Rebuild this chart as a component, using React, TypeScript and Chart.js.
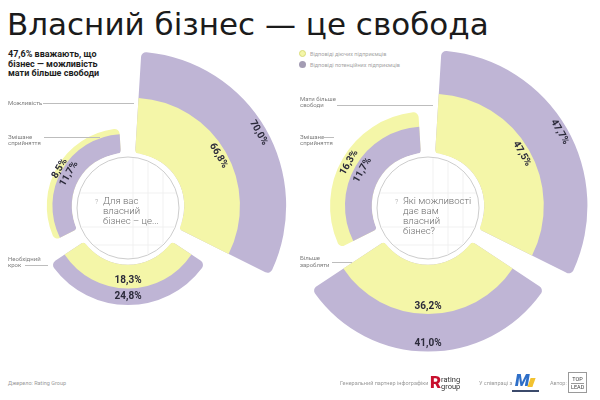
import React, { useEffect, useRef } from "react";
import { Chart, registerables } from "chart.js";

Chart.register(...registerables);

// ---------- data ----------
const leftCategories = ["Можливість", "Необхідний крок", "Змішане сприйняття"];
const leftOwners = [66.8, 18.3, 8.5]; // відповіді діючих підприємців
const leftPotential = [70.0, 24.8, 11.7]; // відповіді потенційних підприємців
const leftPotentialInside = [false, false, true];
const leftQuestion = ["Для вас", "власний", "бізнес – це..."];
const leftScaleMin = -96.4;
const leftScaleMax = 161.2;

const rightCategories = ["Мати більше свободи", "Більше заробляти", "Змішане сприйняття"];
const rightOwners = [47.5, 36.2, 16.3];
const rightPotential = [47.7, 41.0, 11.7];
const rightPotentialInside = [false, false, true];
const rightQuestion = ["Які можливості", "дає вам", "власний", "бізнес?"];
const rightScaleMin = -74.4;
const rightScaleMax = 111.4;

const legendLabels = ["Відповіді діючих підприємців", "Відповіді потенційних підприємців"];

// ---------- style ----------
const YELLOW = "#F4F6A8";
const PURPLE = "#BFB5D5";
const LABEL_COLOR = "#2B2A3A";
const SIZE = 340;
const OFFSET = 18;
const PAD_DEG = 3.5;
const HOLE = 52;
const COVER = 55.5;
const RING = 51;

function fmt(v: number) {
  return v.toFixed(1).replace(".", ",") + "%";
}

function buildDatasets(owners: number[], potential: number[], inside: boolean[]) {
  const innerData: number[] = [];
  const outerData: number[] = [];
  const innerColors: string[] = [];
  const outerColors: string[] = [];
  const innerVals: number[] = [];
  const outerVals: number[] = [];
  owners.forEach((o, i) => {
    const p = potential[i];
    const first = inside[i] ? p : o;
    const second = inside[i] ? o : p;
    innerData.push(first);
    outerData.push(first + second);
    innerColors.push(inside[i] ? PURPLE : YELLOW);
    outerColors.push(inside[i] ? YELLOW : PURPLE);
    innerVals.push(first);
    outerVals.push(second);
  });
  return [
    {
      data: innerData,
      backgroundColor: innerColors,
      borderWidth: 0,
      offset: OFFSET,
      borderRadius: { outerStart: 0, outerEnd: 0, innerStart: 4, innerEnd: 4 },
      valueLabels: innerVals,
    },
    {
      data: outerData,
      backgroundColor: outerColors,
      borderWidth: 0,
      offset: OFFSET,
      borderRadius: 5,
      valueLabels: outerVals,
    },
  ];
}

const polarDecor = {
  id: "polarDecor",
  afterDatasetsUpdate(chart: any) {
    const pad = (PAD_DEG * Math.PI) / 180;
    chart.data.datasets.forEach((_: any, d: number) => {
      chart.getDatasetMeta(d).data.forEach((arc: any) => {
        arc.startAngle += pad;
        arc.endAngle -= pad;
        arc.innerRadius = HOLE;
        arc.circumference = arc.endAngle - arc.startAngle;
      });
    });
  },
  afterDatasetsDraw(chart: any, _args: any, opts: any) {
    const ctx = chart.ctx as CanvasRenderingContext2D;
    const r = chart.scales.r as any;
    const cx = r.xCenter;
    const cy = r.yCenter;
    ctx.save();
    // cover + ring
    ctx.beginPath();
    ctx.arc(cx, cy, COVER, 0, Math.PI * 2);
    ctx.fillStyle = "#ffffff";
    ctx.fill();
    // faint grid
    ctx.save();
    ctx.beginPath();
    ctx.arc(cx, cy, RING - 1, 0, Math.PI * 2);
    ctx.clip();
    ctx.strokeStyle = "#eeeeee";
    ctx.lineWidth = 0.8;
    [5, 20, 35].forEach((dx) => {
      ctx.beginPath();
      ctx.moveTo(cx + dx, cy - RING);
      ctx.lineTo(cx + dx, cy + RING);
      ctx.stroke();
    });
    [-15, 19, 37].forEach((dy) => {
      ctx.beginPath();
      ctx.moveTo(cx - RING, cy + dy);
      ctx.lineTo(cx + RING, cy + dy);
      ctx.stroke();
    });
    ctx.restore();
    ctx.beginPath();
    ctx.arc(cx, cy, RING, 0, Math.PI * 2);
    ctx.strokeStyle = "#cdcdcd";
    ctx.lineWidth = 1;
    ctx.stroke();

    // question text
    const lines: string[] = opts.question || [];
    ctx.textBaseline = "middle";
    ctx.textAlign = "left";
    ctx.fillStyle = "#9a9a9a";
    ctx.font = "300 7px Roboto";
    ctx.fillText("?", cx - 33, cy - 6);
    ctx.fillStyle = "#6e6e6e";
    ctx.font = "300 9.6px Roboto";
    lines.forEach((ln, k) => ctx.fillText(ln, cx - 25, cy - 6 + k * 10));

    // value labels
    const trans = OFFSET / 4;
    ctx.font = "bold 10px Roboto";
    ctx.fillStyle = LABEL_COLOR;
    ctx.textAlign = "center";
    chart.data.datasets.forEach((ds: any, d: number) => {
      const meta = chart.getDatasetMeta(d);
      meta.data.forEach((arc: any, i: number) => {
        const mid = (arc.startAngle + arc.endAngle) / 2;
        const circ = arc.endAngle - arc.startAngle;
        const extra = trans * (1 - Math.sin(Math.min(Math.PI, circ)));
        const outerTrue = arc.outerRadius + extra + trans;
        const innerTrue =
          d === 0 ? HOLE + extra + trans : chart.getDatasetMeta(0).data[i].outerRadius + extra + trans;
        const rr = outerTrue - Math.min(8, (outerTrue - innerTrue) / 2);
        const px = cx + Math.cos(mid) * rr;
        const py = cy + Math.sin(mid) * rr;
        let rot = mid + Math.PI / 2;
        while (rot > Math.PI) rot -= 2 * Math.PI;
        while (rot <= -Math.PI) rot += 2 * Math.PI;
        if (rot > Math.PI / 2) rot -= Math.PI;
        if (rot < -Math.PI / 2) rot += Math.PI;
        ctx.save();
        ctx.translate(px, py);
        ctx.rotate(rot);
        ctx.fillText(fmt(ds.valueLabels[i]), 0, 0);
        ctx.restore();
      });
    });
    ctx.restore();
  },
};

type PanelProps = {
  categories: string[];
  owners: number[];
  potential: number[];
  inside: boolean[];
  question: string[];
  min: number;
  max: number;
  left: number;
  top: number;
};

function PolarPanel(props: PanelProps) {
  const ref = useRef<HTMLCanvasElement>(null);
  useEffect(() => {
    const chart = new Chart(ref.current as HTMLCanvasElement, {
      type: "polarArea",
      data: {
        labels: props.categories,
        datasets: buildDatasets(props.owners, props.potential, props.inside) as any,
      },
      options: {
        responsive: false,
        animation: false,
        events: [],
        layout: { padding: 0 },
        plugins: {
          legend: { display: false },
          tooltip: { enabled: false },
          polarDecor: { question: props.question },
        },
        scales: {
          r: {
            min: props.min,
            max: props.max,
            startAngle: 0,
            ticks: { display: false },
            grid: { display: false },
            angleLines: { display: false },
            pointLabels: { display: false },
          },
        },
      } as any,
      plugins: [polarDecor as any],
    });
    return () => chart.destroy();
  }, []);
  return (
    <canvas
      ref={ref}
      width={SIZE}
      height={SIZE}
      style={{ position: "absolute", left: props.left, top: props.top, width: SIZE, height: SIZE }}
    />
  );
}

const smallText: React.CSSProperties = {
  position: "absolute",
  fontFamily: "Roboto, sans-serif",
  fontSize: 6,
  lineHeight: "6.5px",
  color: "#7d7d7d",
  whiteSpace: "nowrap",
};

function Leader(p: { x1: number; x2: number; y: number }) {
  return (
    <div
      style={{
        position: "absolute",
        left: p.x1,
        top: p.y,
        width: p.x2 - p.x1,
        height: 0,
        borderTop: "0.8px solid #bdbdbd",
      }}
    />
  );
}

function CatLabel(p: { x: number; y: number; lines: string[] }) {
  return (
    <div style={{ ...smallText, left: p.x, top: p.y }}>
      {p.lines.map((l, i) => (
        <div key={i}>{l}</div>
      ))}
    </div>
  );
}

export default function App() {
  return (
    <div
      style={{
        position: "absolute",
        left: 0,
        top: 0,
        width: 600,
        height: 400,
        overflow: "hidden",
        background: "#ffffff",
        fontFamily: "Roboto, sans-serif",
      }}
    >
      <div
        style={{
          position: "absolute",
          left: 7,
          top: 9,
          fontFamily: '"DejaVu Sans", sans-serif',
          fontSize: 31,
          lineHeight: "31px",
          color: "#1b1b1b",
          whiteSpace: "nowrap",
        }}
      >
        Власний бізнес — це свобода
      </div>
      <div
        style={{
          position: "absolute",
          left: 8,
          top: 50,
          fontSize: 9,
          fontWeight: 700,
          lineHeight: "9.7px",
          color: "#1d1d1d",
          whiteSpace: "nowrap",
        }}
      >
        47,6% вважають, що
        <br />
        бізнес — можливість
        <br />
        мати більше свободи
      </div>

      {/* legend */}
      <div style={{ position: "absolute", left: 299, top: 50, width: 7, height: 7, borderRadius: 4, background: YELLOW, border: "1px solid #d9dc7a", boxSizing: "border-box" }} />
      <div style={{ ...smallText, fontSize: 5.5, color: "#a5a5a5", left: 310, top: 50.5 }}>{legendLabels[0]}</div>
      <div style={{ position: "absolute", left: 299, top: 61, width: 7, height: 7, borderRadius: 4, background: "#a39cb3" }} />
      <div style={{ ...smallText, fontSize: 5.5, color: "#a5a5a5", left: 310, top: 61.5 }}>{legendLabels[1]}</div>

      <PolarPanel
        categories={leftCategories}
        owners={leftOwners}
        potential={leftPotential}
        inside={leftPotentialInside}
        question={leftQuestion}
        min={leftScaleMin}
        max={leftScaleMax}
        left={-42}
        top={38}
      />
      <PolarPanel
        categories={rightCategories}
        owners={rightOwners}
        potential={rightPotential}
        inside={rightPotentialInside}
        question={rightQuestion}
        min={rightScaleMin}
        max={rightScaleMax}
        left={258}
        top={38}
      />

      {/* category labels, left */}
      <CatLabel x={8} y={100} lines={[leftCategories[0]]} />
      <Leader x1={43} x2={134} y={103} />
      <CatLabel x={8} y={133.5} lines={["Змішане", "сприйняття"]} />
      <Leader x1={44} x2={100} y={137} />
      <CatLabel x={8} y={255.5} lines={["Необхідний", "крок"]} />
      <Leader x1={25} x2={48} y={265} />

      {/* category labels, right */}
      <CatLabel x={300} y={95.5} lines={["Мати більше", "свободи"]} />
      <Leader x1={337} x2={433} y={105} />
      <CatLabel x={300} y={133.5} lines={["Змішане", "сприйняття"]} />
      <Leader x1={320} x2={334} y={137} />
      <CatLabel x={300} y={255} lines={["Більше", "заробляти"]} />
      <Leader x1={332} x2={352} y={262} />

      {/* footer */}
      <div style={{ ...smallText, fontSize: 5.5, color: "#9a9a9a", left: 8, top: 380 }}>Джерело: Rating Group</div>
      <div style={{ ...smallText, fontSize: 5.5, color: "#9a9a9a", left: 340, top: 380 }}>Генеральний партнер інфографіки</div>
      <div style={{ position: "absolute", left: 430, top: 374, fontFamily: "Roboto", fontWeight: 900, fontSize: 17, lineHeight: "17px", color: "#c8102e" }}>R</div>
      <div style={{ ...smallText, fontSize: 7.5, lineHeight: "7.5px", color: "#333", left: 441, top: 375.5 }}>
        <div>rating</div>
        <div>group</div>
      </div>
      <div style={{ ...smallText, fontSize: 5.5, color: "#9a9a9a", left: 479, top: 380 }}>У співпраці з</div>
      <div style={{ position: "absolute", left: 515, top: 372, fontFamily: "Roboto", fontWeight: 900, fontSize: 17, lineHeight: "17px", color: "#2e6fc8", fontStyle: "italic" }}>M</div>
      <div style={{ position: "absolute", left: 529, top: 378, width: 5, height: 9, background: "#f2c230", transform: "skewX(-20deg)" }} />
      <div style={{ position: "absolute", left: 512, top: 390, width: 27, height: 2, background: "#3b4a6b" }} />
      <div style={{ ...smallText, fontSize: 5.5, color: "#9a9a9a", left: 550, top: 380 }}>Автор:</div>
      <div style={{ position: "absolute", left: 568, top: 372, width: 19, height: 21, border: "0.8px solid #9a9a9a", boxSizing: "border-box", fontFamily: "Roboto", fontSize: 5.5, lineHeight: "6.5px", color: "#444", textAlign: "center", paddingTop: 2.5 }}>
        <div>TOP</div>
        <div style={{ borderTop: "0.5px solid #999", margin: "1px 2px 0" }}>LEAD</div>
      </div>
    </div>
  );
}
